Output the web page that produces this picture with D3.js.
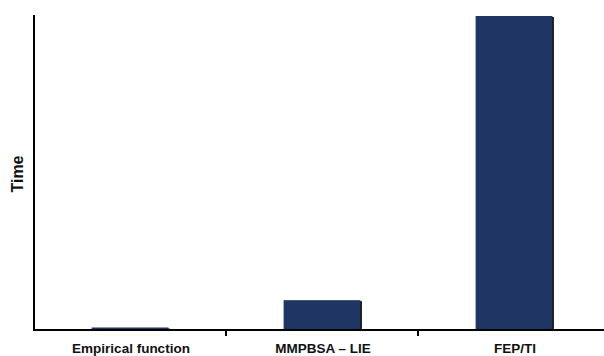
<!DOCTYPE html>
<html>
<head>
<meta charset="utf-8">
<script src="https://cdn.jsdelivr.net/npm/d3@7"></script>
<style>
  body { margin: 0; background: #fff; }
  svg { display: block; }
  .lbl { font-family: "Liberation Sans", Arial, sans-serif; font-weight: bold; }
</style>
</head>
<body>
<svg id="chart"></svg>
<script>
var categories = ["Empirical function", "MMPBSA \u2013 LIE", "FEP/TI"];
var times = [0.8, 9.5, 100];

var W = 604, H = 356;
var svg = d3.select("#chart").attr("width", W).attr("height", H);

var x = d3.scaleBand().domain(categories).range([34, 610]).paddingInner(0.6).paddingOuter(0.3);
var y = d3.scaleLinear().domain([0, 100]).range([330, 16]);

// shadows then bars
svg.selectAll(".shadow").data(times).enter().append("rect")
  .attr("x", function(d, i){ return x(categories[i]) + 1.5; })
  .attr("y", function(d){ return y(d) + 1; })
  .attr("width", x.bandwidth())
  .attr("height", function(d){ return y(0) - y(d); })
  .attr("fill", "#111");

svg.selectAll(".bar").data(times).enter().append("rect")
  .attr("x", function(d, i){ return x(categories[i]); })
  .attr("y", function(d){ return y(d); })
  .attr("width", x.bandwidth())
  .attr("height", function(d){ return y(0) - y(d); })
  .attr("fill", "#1f3563");

// y axis line
svg.append("line").attr("x1", 34).attr("x2", 34).attr("y1", 15).attr("y2", 331)
  .attr("stroke", "#000").attr("stroke-width", 2);

// x axis line + ticks between categories
svg.append("line").attr("x1", 33).attr("x2", W).attr("y1", 330).attr("y2", 330)
  .attr("stroke", "#000").attr("stroke-width", 2);
var step = x.step();
svg.selectAll(".tick").data(categories.slice(1)).enter().append("line")
  .attr("x1", function(d){ return x(d) - (step - x.bandwidth()) / 2; })
  .attr("x2", function(d){ return x(d) - (step - x.bandwidth()) / 2; })
  .attr("y1", 330).attr("y2", 336)
  .attr("stroke", "#000").attr("stroke-width", 2);

svg.selectAll(".cat").data(categories).enter().append("text")
  .attr("class", "lbl")
  .attr("x", function(d){ return x(d) + x.bandwidth() / 2 + 1; })
  .attr("y", 353)
  .attr("text-anchor", "middle")
  .attr("font-size", 13.5)
  .attr("fill", "#111")
  .text(function(d){ return d; });

svg.append("text").attr("class", "lbl")
  .attr("transform", "translate(23,174) rotate(-90)")
  .attr("text-anchor", "middle")
  .attr("font-size", 16)
  .attr("fill", "#111")
  .text("Time");
</script>
</body>
</html>
